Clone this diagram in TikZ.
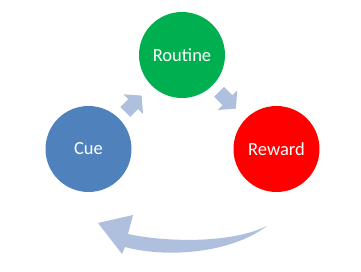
\documentclass[tikz,border=0pt]{standalone}
\usepackage{fontspec}
\setmainfont{Carlito}
\usetikzlibrary{arrows.meta}
\definecolor{cueblue}{HTML}{4F81BD}
\definecolor{routinegreen}{HTML}{00B050}
\definecolor{rewardred}{HTML}{FF0000}
\definecolor{arrowblue}{HTML}{AFC0DE}
\begin{document}
\begin{tikzpicture}[x=1pt,y=-1pt,
  stage/.style={circle, minimum size=86pt, inner sep=0pt, text=white,
    font=\fontsize{18.5}{21}\selectfont},
  blockarrow/.style={draw=arrowblue, line width=14pt,
    -{Triangle[length=12pt,width=27pt]}, shorten <=9pt, shorten >=14pt},
  bigarrow/.style={fill=arrowblue}]
\useasboundingbox (0,0) rectangle (361,272);
\node[stage, fill=cueblue] (cue) at (88.5,149) {Cue};
\node[stage, fill=routinegreen] (routine) at (182,55) {Routine};
\node[stage, fill=rewardred] (reward) at (276.5,149) {Reward};
\draw[blockarrow] (cue) -- (routine);
\draw[blockarrow] (routine) -- (reward);
% curved return arrow from Reward side back to Cue side
\coordinate (tail) at (267,226);
\coordinate (lowin) at (125,247);
\coordinate (lowbarb) at (122,254);
\coordinate (tip) at (98,223);
\coordinate (upbarb) at (133,215);
\coordinate (upin) at (128,234);
\fill[bigarrow] (tail) .. controls (230,254) and (165,258) .. (lowin)
  -- (lowbarb) -- (tip) -- (upbarb) -- (upin)
  .. controls (165,242) and (230,244) .. (tail) -- cycle;
\end{tikzpicture}
\end{document}
